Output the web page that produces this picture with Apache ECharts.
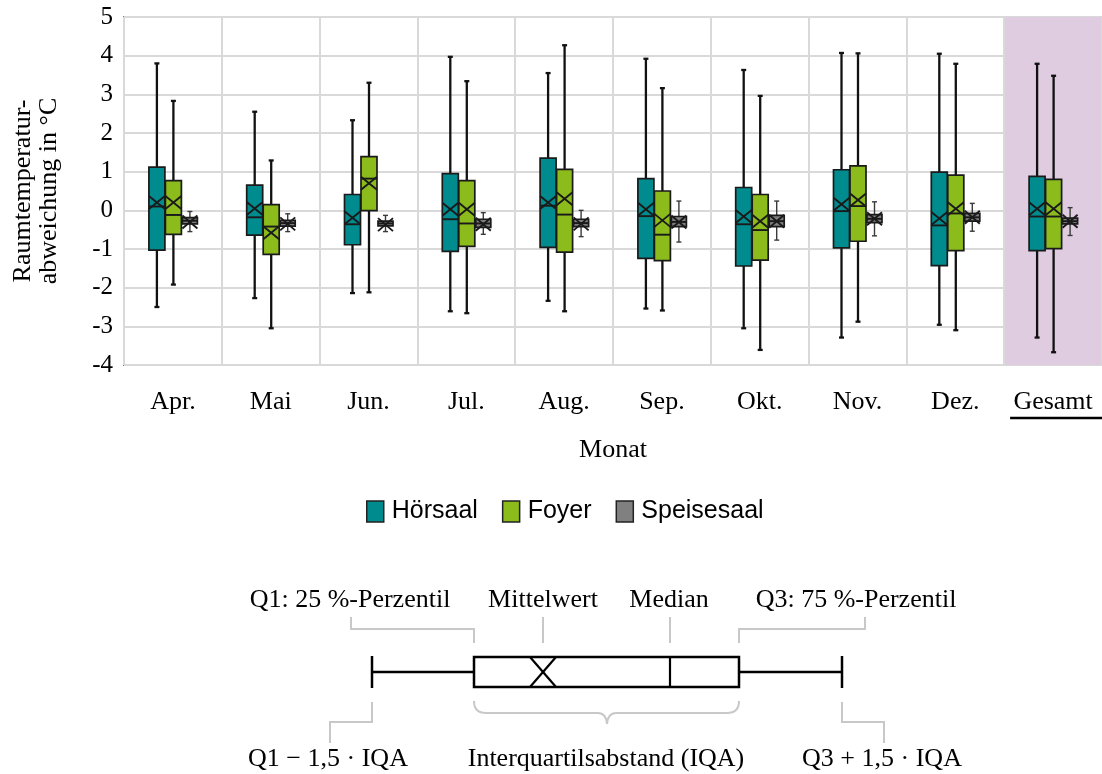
<!DOCTYPE html>
<html>
<head>
<meta charset="utf-8">
<script src="https://cdn.jsdelivr.net/npm/echarts@6/dist/echarts.min.js"></script>
<style>html,body{margin:0;padding:0;background:#fff}#c{width:1102px;height:774px}</style>
</head>
<body>
<div id="c"></div>
<script>
const categories = ['Apr.','Mai','Jun.','Jul.','Aug.','Sep.','Okt.','Nov.','Dez.','Gesamt'];
const yTicks = [-4,-3,-2,-1,0,1,2,3,4,5];
const seriesNames = ['Hörsaal','Foyer','Speisesaal'];
// [min, Q1, median, Q3, max]
const hoersaal = [
  [-2.50,-1.03, 0.10,1.12,3.80],
  [-2.27,-0.64,-0.18,0.65,2.55],
  [-2.14,-0.89,-0.36,0.41,2.33],
  [-2.61,-1.06,-0.23,0.95,3.97],
  [-2.34,-0.96, 0.12,1.35,3.55],
  [-2.54,-1.24,-0.15,0.82,3.92],
  [-3.05,-1.44,-0.36,0.59,3.63],
  [-3.29,-0.97,-0.02,1.05,4.07],
  [-2.96,-1.43,-0.39,0.99,4.05],
  [-3.29,-1.04,-0.16,0.88,3.79]
];
const hoersaalMean = [0.20,0.05,-0.19,0.03,0.20,0.03,-0.16,0.16,-0.21,0.04];
const foyer = [
  [-1.92,-0.62,-0.12,0.77,2.83],
  [-3.05,-1.14,-0.42,0.15,1.29],
  [-2.12,-0.01, 0.82,1.39,3.30],
  [-2.66,-0.93,-0.34,0.77,3.34],
  [-2.61,-1.08,-0.11,1.06,4.27],
  [-2.59,-1.30,-0.63,0.50,3.16],
  [-3.61,-1.29,-0.51,0.41,2.96],
  [-2.88,-0.80, 0.11,1.15,4.06],
  [-3.10,-1.04,-0.08,0.91,3.79],
  [-3.67,-0.99,-0.16,0.80,3.48]
];
const foyerMean = [0.20,-0.58,0.70,0.03,0.30,-0.26,-0.28,0.27,0.04,0.04];
const speisesaal = [
  [-0.55,-0.35,-0.27,-0.19,-0.03],
  [-0.55,-0.41,-0.33,-0.26,-0.09],
  [-0.55,-0.40,-0.34,-0.28,-0.13],
  [-0.62,-0.44,-0.34,-0.23,-0.06],
  [-0.68,-0.42,-0.33,-0.23, 0.00],
  [-0.82,-0.42,-0.30,-0.16, 0.24],
  [-0.77,-0.42,-0.28,-0.13, 0.24],
  [-0.66,-0.32,-0.22,-0.11, 0.22],
  [-0.54,-0.28,-0.18,-0.08, 0.18],
  [-0.65,-0.35,-0.28,-0.20, 0.07]
];
const speisesaalMean = [-0.30,-0.35,-0.37,-0.36,-0.35,-0.30,-0.28,-0.22,-0.18,-0.28];

const colors = ['#008b8f','#8cbb1c','#808080'];
const SERIF = '"Liberation Serif","Times New Roman",serif';
const SANS = '"Liberation Sans",Arial,sans-serif';

function rows(box, mean) {
  return box.map((b, i) => [i, b[0], b[1], b[2], b[3], b[4], mean[i]]);
}

function makeRender(offset, boxW, whiskerColor, whiskerW, capW, fill) {
  return function (params, api) {
    const ci = api.value(0);
    const xc = api.coord([ci, 0])[0] + offset;
    const y = [1,2,3,4,5,6].map(k => api.coord([ci, api.value(k)])[1]);
    const yMin = y[0], yQ1 = y[1], yMed = y[2], yQ3 = y[3], yMax = y[4], yMean = y[5];
    const ws = {stroke: whiskerColor, lineWidth: whiskerW};
    const dark = '#1a1a1a';
    const xh = 6.5;
    return {
      type: 'group',
      children: [
        {type:'line', shape:{x1:xc,y1:yMax,x2:xc,y2:yQ3}, style:ws},
        {type:'line', shape:{x1:xc,y1:yQ1,x2:xc,y2:yMin}, style:ws},
        {type:'line', shape:{x1:xc-capW/2,y1:yMax,x2:xc+capW/2,y2:yMax}, style:ws},
        {type:'line', shape:{x1:xc-capW/2,y1:yMin,x2:xc+capW/2,y2:yMin}, style:ws},
        {type:'rect', shape:{x:xc-boxW/2,y:yQ3,width:boxW,height:yQ1-yQ3}, style:{fill:fill, stroke:dark, lineWidth:1.7}},
        {type:'line', shape:{x1:xc-boxW/2,y1:yMed,x2:xc+boxW/2,y2:yMed}, style:{stroke:dark, lineWidth:1.9}},
        {type:'line', shape:{x1:xc-boxW/2,y1:yMean-xh,x2:xc+boxW/2,y2:yMean+xh}, style:{stroke:dark, lineWidth:1.9}},
        {type:'line', shape:{x1:xc-boxW/2,y1:yMean+xh,x2:xc+boxW/2,y2:yMean-xh}, style:{stroke:dark, lineWidth:1.9}}
      ]
    };
  };
}

const chart = echarts.init(document.getElementById('c'), null, {renderer:'canvas'});

const bandColors = categories.map((c, i) => i === categories.length - 1 ? '#e0cce0' : 'rgba(0,0,0,0)');

const gy = 643, gray = '#c8c8c8';
const gs = {stroke:gray, lineWidth:2, fill:null};
function txt(t, x, y) {
  return {type:'text', style:{text:t, x:x, y:y, align:'center', verticalAlign:'middle', font:'26px ' + SERIF, fill:'#000'}};
}
function ln(x1, y1, x2, y2, w, c) {
  return {type:'line', shape:{x1:x1,y1:y1,x2:x2,y2:y2}, style:{stroke:c || '#000', lineWidth:w}};
}
function bz(x1, y1, cx, cy, x2, y2) {
  return {type:'bezierCurve', shape:{x1:x1,y1:y1,cpx1:cx,cpy1:cy,x2:x2,y2:y2}, style:gs};
}
const graphics = [
  txt('Q1: 25 %-Perzentil', 350, 600),
  txt('Mittelwert', 543, 600),
  txt('Median', 669, 600),
  txt('Q3: 75 %-Perzentil', 856, 600),
  txt('Q1 \u2212 1,5 \u00b7 IQA', 328, 759),
  txt('Interquartilsabstand (IQA)', 606, 759),
  txt('Q3 + 1,5 \u00b7 IQA', 882, 759),
  {type:'polyline', shape:{points:[[351,617],[351,629],[474,629],[474,gy]]}, style:gs},
  {type:'polyline', shape:{points:[[543,617],[543,gy]]}, style:gs},
  {type:'polyline', shape:{points:[[670,617],[670,gy]]}, style:gs},
  {type:'polyline', shape:{points:[[739,gy],[739,629],[865,629],[865,617]]}, style:gs},
  {type:'polyline', shape:{points:[[372,702],[372,722],[330,722],[330,743]]}, style:gs},
  {type:'polyline', shape:{points:[[842,702],[842,722],[884,722],[884,743]]}, style:gs},
  bz(474,701, 474,713, 486,713),
  ln(486,713, 598,713, 2, gray),
  bz(598,713, 606,713, 607,724),
  bz(607,724, 608,713, 616,713),
  ln(616,713, 727,713, 2, gray),
  bz(727,713, 739,713, 739,701),
  ln(372,672, 474,672, 2.5),
  ln(739,672, 842,672, 2.5),
  ln(372,656, 372,688, 2.5),
  ln(842,656, 842,688, 2.5),
  {type:'rect', shape:{x:474,y:657,width:265,height:30}, style:{stroke:'#000', lineWidth:2.5, fill:'#fff'}},
  ln(670,657, 670,687, 2.2),
  ln(530,657, 556,687, 2.2),
  ln(556,657, 530,687, 2.2)
];

const option = {
  animation: false,
  backgroundColor: '#fff',
  grid: {left:124, right:0, top:17, bottom:409, show:true, borderColor:'#7f7f7f', borderWidth:2, backgroundColor:'transparent'},
  legend: {
    data: seriesNames, left: 361, top: 494, icon: 'rect', itemWidth: 17, itemHeight: 21, itemGap: 24,
    itemStyle: {borderColor:'#222', borderWidth:1.5},
    textStyle: {fontFamily: SANS, fontSize: 25, color:'#000', padding:[0,0,0,3]}
  },
  xAxis: {
    type: 'category', data: categories, boundaryGap: true,
    name: 'Monat', nameLocation: 'middle', nameGap: 72,
    nameTextStyle: {fontFamily: SERIF, fontSize: 26, color:'#000'},
    axisLine: {show:false}, axisTick: {show:false},
    axisLabel: {interval:0, margin: 24, fontFamily: SERIF, fontSize: 26, color:'#000'},
    splitLine: {show:true, interval:0, lineStyle:{color:'#d9d9d9', width:2}},
    splitArea: {show:true, interval:0, areaStyle:{color: bandColors}}
  },
  yAxis: {
    type: 'value', min: yTicks[0], max: yTicks[yTicks.length-1], interval: 1,
    name: 'Raumtemperatur-\nabweichung in °C', nameLocation: 'middle', nameRotate: 90, nameGap: 62,
    nameTextStyle: {fontFamily: SERIF, fontSize: 26, color:'#000', lineHeight: 26},
    axisLine: {show:false}, axisTick: {show:false},
    axisLabel: {margin: 11, fontFamily: SERIF, fontSize: 25, color:'#000'},
    splitLine: {show:true, lineStyle:{color:'#d9d9d9', width:2}}
  },
  series: [
    {name: seriesNames[0], type:'custom', data: rows(hoersaal, hoersaalMean), encode:{x:0, y:[1,2,3,4,5,6]},
     itemStyle:{color: colors[0]}, renderItem: makeRender(-16, 16, '#111', 2.3, 5, colors[0])},
    {name: seriesNames[1], type:'custom', data: rows(foyer, foyerMean), encode:{x:0, y:[1,2,3,4,5,6]},
     itemStyle:{color: colors[1]}, renderItem: makeRender(0.5, 16, '#111', 2.3, 5, colors[1])},
    {name: seriesNames[2], type:'custom', data: rows(speisesaal, speisesaalMean), encode:{x:0, y:[1,2,3,4,5,6]},
     itemStyle:{color: colors[2]}, renderItem: makeRender(17, 15, '#3a3a3a', 1.4, 5, colors[2])}
  ],
  graphic: graphics
};
chart.setOption(option);

// underline under the "Gesamt" label
const gx = chart.convertToPixel({xAxisIndex:0}, categories[categories.length-1]);
chart.setOption({graphic: graphics.concat([
  ln(gx-43, 418, gx+49, 418, 2.5)
])});
</script>
</body>
</html>
